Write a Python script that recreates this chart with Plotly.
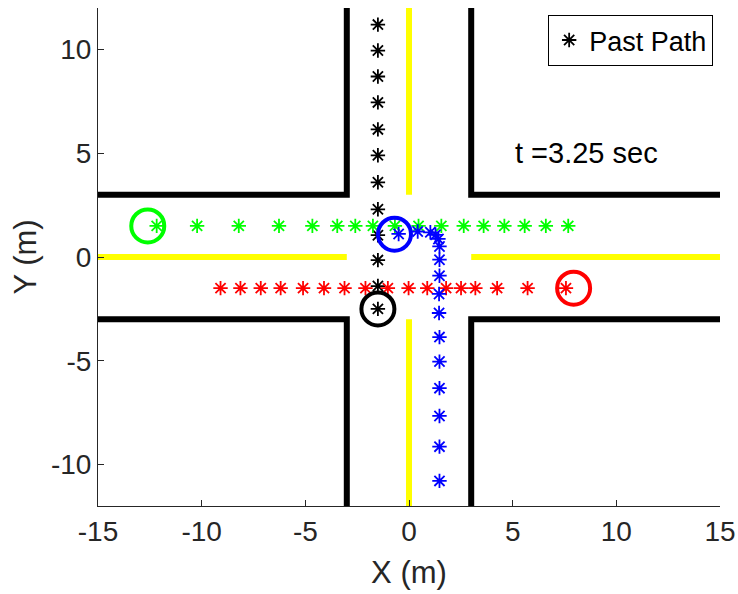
import plotly.graph_objects as go

# Road geometry (lane edges and centre lines)
edge_x = [-15, -3, -3, None, 3, 3, 15, None, -15, -3, -3, None, 3, 3, 15]
edge_y = [3, 3, 12, None, 12, 3, 3, None, -3, -3, -12, None, -12, -3, -3]
center_x = [-15, -3, None, 3, 15, None, 0, 0, None, 0, 0]
center_y = [0, 0, None, 0, 0, None, 3, 12, None, -3, -12]

# Past paths
black_x = [-1.5, -1.5, -1.5, -1.5, -1.5, -1.5, -1.5, -1.5, -1.5, -1.5, -1.5, -1.5]
black_y = [11.2, 9.95, 8.7, 7.45, 6.15, 4.9, 3.6, 2.3, 1.05, -0.15, -1.4, -2.5]

green_x = [-12.17, -10.22, -8.21, -6.27, -4.66, -3.46, -2.59, -1.74, -0.68,
           0.46, 1.56, 2.64, 3.6, 4.6, 5.58, 6.6, 7.68]
green_y = [1.5] * 17

red_x = [-9.09, -8.13, -7.15, -6.19, -5.11, -4.10, -3.11, -2.1, -1.02, -0.02,
         0.88, 1.79, 2.51, 3.2, 4.25, 5.72, 7.57]
red_y = [-1.5] * 17

blue_x = [1.47, 1.47, 1.47, 1.47, 1.47, 1.47, 1.45, 1.45, 1.47, 1.47, 1.47,
          1.42, 1.28, 1.03, 0.42, -0.5]
blue_y = [-10.79, -9.14, -7.66, -6.32, -5.04, -3.86, -2.70, -1.78, -0.9, -0.13,
          0.51, 0.87, 1.07, 1.19, 1.23, 1.11]

# Current vehicle positions
cur_x = [-1.5, -12.6, 7.94, -0.7]
cur_y = [-2.5, 1.5, -1.5, 1.1]
cur_colors = ["#000000", "#00ff00", "#ff0000", "#0000ff"]

# Tick labels
x_tickvals = [-15, -10, -5, 0, 5, 10, 15]
x_ticktext = ["-15", "-10", "-5", "0", "5", "10", "15"]
y_tickvals = [-10, -5, 0, 5, 10]
y_ticktext = ["-10", "-5", "0", "5", "10"]

time_label = "t =3.25 sec"

fig = go.Figure()
fig.add_trace(go.Scatter(x=edge_x, y=edge_y, mode="lines",
                         line=dict(color="black", width=6), showlegend=False, hoverinfo="skip"))
fig.add_trace(go.Scatter(x=center_x, y=center_y, mode="lines",
                         line=dict(color="#ffff00", width=6), showlegend=False, hoverinfo="skip"))


def stars(x, y, c, name=None, show=False):
    return go.Scatter(x=x, y=y, mode="markers", name=name, showlegend=show,
                      marker=dict(symbol="asterisk-open", size=12, color=c,
                                  line=dict(color=c, width=1.8)))


fig.add_trace(stars(black_x, black_y, "#000000", "Past Path", True))
fig.add_trace(stars(green_x, green_y, "#00ff00"))
fig.add_trace(stars(red_x, red_y, "#ff0000"))
fig.add_trace(stars(blue_x, blue_y, "#0000ff"))

for cx, cy, cc in zip(cur_x, cur_y, cur_colors):
    fig.add_trace(go.Scatter(x=[cx], y=[cy], mode="markers", showlegend=False,
                             marker=dict(symbol="circle-open", size=33, color=cc,
                                         line=dict(color=cc, width=4))))

fig.add_annotation(x=5, y=5, text=time_label, showarrow=False, xanchor="left",
                   yanchor="middle", font=dict(size=29, color="black"))

axis_common = dict(showgrid=False, zeroline=False, ticks="inside", ticklen=6,
                   tickcolor="#262626", linecolor="#262626", linewidth=1,
                   showline=True, mirror=False, automargin=False,
                   tickfont=dict(size=28, color="#262626"))

fig.update_xaxes(range=[-15, 15], tickvals=x_tickvals, ticktext=x_ticktext,
                 title=dict(text="X (m)", font=dict(size=31, color="#262626"), standoff=15),
                 **axis_common)
fig.update_yaxes(range=[-12, 12], tickvals=y_tickvals, ticktext=y_ticktext,
                 title=dict(text="Y (m)", font=dict(size=31, color="#262626"), standoff=5),
                 **axis_common)

fig.update_layout(
    width=738, height=594, autosize=False,
    margin=dict(l=98, r=18, t=8, b=88),
    paper_bgcolor="white", plot_bgcolor="white",
    font=dict(family="Liberation Sans, Arial, sans-serif", color="black"),
    legend=dict(x=0.989, y=0.986, xanchor="right", yanchor="top",
                bordercolor="black", borderwidth=1, bgcolor="white",
                font=dict(size=27, color="black"), itemwidth=30,
                tracegroupgap=0),
)

fig.write_html("out.html",
               config={"responsive": False, "displayModeBar": False},
               post_script="document.body.style.margin='0';document.body.style.overflow='hidden';")
